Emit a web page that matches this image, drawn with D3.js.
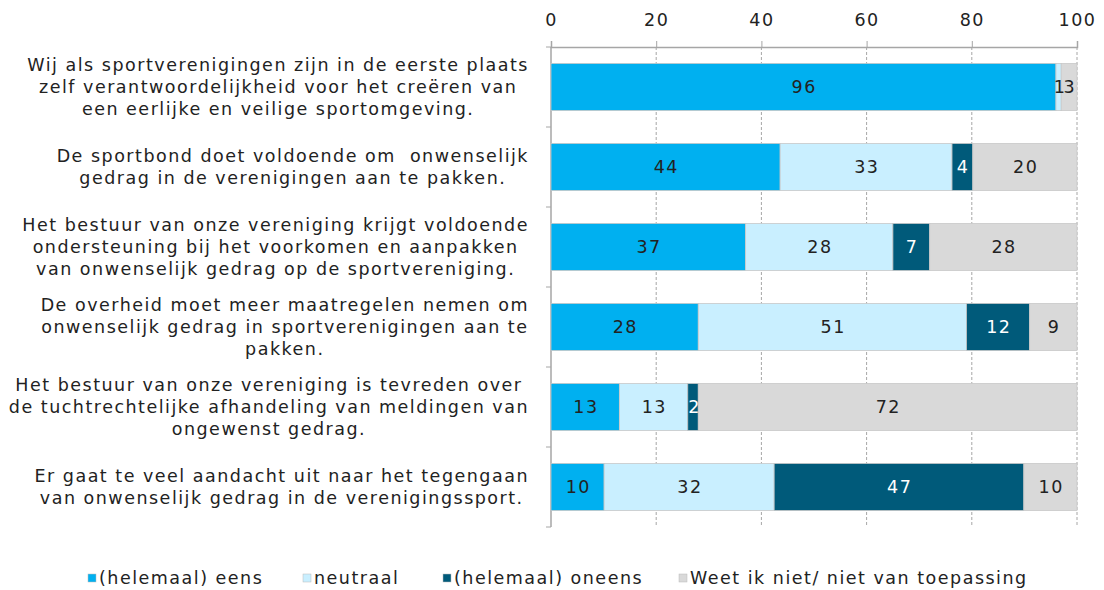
<!DOCTYPE html>
<html>
<head>
<meta charset="utf-8">
<script src="https://cdn.jsdelivr.net/npm/d3@7"></script>
<style>
  body { margin: 0; background: #fff; }
  text { font-family: "DejaVu Sans", sans-serif; fill: #222; font-size: 17.5px; letter-spacing: 1.5px; white-space: pre; }
</style>
</head>
<body>
<div id="chart"></div>
<script>
// data
var statements = [
  ["Wij als sportverenigingen zijn in de eerste plaats", "zelf verantwoordelijkheid voor het creëren van", "een eerlijke en veilige sportomgeving."],
  ["De sportbond doet voldoende om  onwenselijk", "gedrag in de verenigingen aan te pakken."],
  ["Het bestuur van onze vereniging krijgt voldoende", "ondersteuning bij het voorkomen en aanpakken", "van onwenselijk gedrag op de sportvereniging."],
  ["De overheid moet meer maatregelen nemen om", "onwenselijk gedrag in sportverenigingen aan te", "pakken."],
  ["Het bestuur van onze vereniging is tevreden over", "de tuchtrechtelijke afhandeling van meldingen van", "ongewenst gedrag."],
  ["Er gaat te veel aandacht uit naar het tegengaan", "van onwenselijk gedrag in de verenigingssport."]
];
var seriesNames = ["(helemaal) eens", "neutraal", "(helemaal) oneens", "Weet ik niet/ niet van toepassing"];
var eens     = [96, 44, 37, 28, 13, 10];
var neutraal = [1, 33, 28, 51, 13, 32];
var oneens   = [0, 4, 7, 12, 2, 47];
var weetNiet = [3, 20, 28, 9, 72, 10];
var xTicks = [0, 20, 40, 60, 80, 100];

var colors = ["#00b0f0", "#c9efff", "#005a7a", "#d9d9d9"];
var labelColors = ["#222", "#222", "#fff", "#222"];

// dimensions
var margin = {top: 47, right: 27, bottom: 63, left: 551},
    width = 1104 - margin.left - margin.right;

var svg = d3.select("#chart")
  .append("svg")
    .attr("width", 1104)
    .attr("height", 590)
  .append("g")
    .attr("transform", "translate(" + margin.left + "," + margin.top + ")");

// build rows, stacked to 100%
var rows = statements.map(function(s, i) {
  return {label: s, vals: [eens[i], neutraal[i], oneens[i], weetNiet[i]]};
});
rows.forEach(function(r) {
  var total = d3.sum(r.vals), acc = 0;
  r.segs = r.vals.map(function(v, k) {
    var s = {k: k, v: v, x0: acc / total * 100, x1: (acc + v) / total * 100};
    acc += v;
    return s;
  });
});

var x = d3.scaleLinear().domain([0, 100]).range([0, width]);
var y = d3.scaleBand()
  .domain(d3.range(rows.length))
  .range([0, 480])
  .paddingInner(0.41)
  .paddingOuter(0.205);

// gridlines
svg.append("g")
  .selectAll("line")
  .data(xTicks.slice(1))
  .enter().append("line")
    .attr("x1", function(d) { return x(d); })
    .attr("x2", function(d) { return x(d); })
    .attr("y1", 0)
    .attr("y2", 480)
    .attr("stroke", "#a6a6a6")
    .attr("stroke-dasharray", "3,2");

// top axis
var xAxis = svg.append("g")
  .call(d3.axisTop(x).tickValues(xTicks).tickSize(6).tickPadding(15));
xAxis.select(".domain").attr("stroke", "#a6a6a6").attr("stroke-width", 1.5);
xAxis.selectAll(".tick line").attr("stroke", "#a6a6a6");
xAxis.selectAll(".tick text")
  .attr("font-size", null)
  .attr("font-family", null)
  .attr("fill", "#222");

// left axis (boundary ticks only)
svg.append("line")
  .attr("x1", 0).attr("x2", 0).attr("y1", 0).attr("y2", 480)
  .attr("stroke", "#a6a6a6").attr("stroke-width", 1.5);
svg.append("g")
  .selectAll("line")
  .data(d3.range(rows.length + 1))
  .enter().append("line")
    .attr("x1", -5).attr("x2", 0)
    .attr("y1", function(d) { return d * y.step(); })
    .attr("y2", function(d) { return d * y.step(); })
    .attr("stroke", "#a6a6a6");

// bars
var rowG = svg.append("g")
  .selectAll("g")
  .data(rows)
  .enter().append("g")
    .attr("transform", function(d, i) { return "translate(0," + y(i) + ")"; });

rowG.selectAll("rect")
  .data(function(d) { return d.segs.filter(function(s) { return s.v > 0; }); })
  .enter().append("rect")
    .attr("x", function(s) { return x(s.x0); })
    .attr("width", function(s) { return x(s.x1) - x(s.x0); })
    .attr("height", y.bandwidth())
    .attr("fill", function(s) { return colors[s.k]; })
    .attr("stroke", "#c8c8c8")
    .attr("stroke-width", 0.8);

rowG.selectAll("text")
  .data(function(d) { return d.segs.filter(function(s) { return s.v > 0; }); })
  .enter().append("text")
    .attr("x", function(s) { return x((s.x0 + s.x1) / 2) + 0.75; })
    .attr("y", y.bandwidth() / 2)
    .attr("dy", "0.36em")
    .attr("text-anchor", "middle")
    .style("fill", function(s) { return labelColors[s.k]; })
    .style("letter-spacing", function(s) { return s.v < 3 ? "0px" : null; })
    .text(function(s) { return s.v; });

// category labels, centred block right-aligned to the axis
var lineH = 22;
rows.forEach(function(r, i) {
  var g = svg.append("g");
  var n = r.label.length;
  var t = g.selectAll("text")
    .data(r.label)
    .enter().append("text")
      .attr("y", function(d, j) { return y(i) + y.bandwidth() / 2 + (j - (n - 1) / 2) * lineH; })
      .attr("dy", "0.36em")
      .attr("text-anchor", "middle")
      .text(function(d) { return d; });
  var maxW = 0;
  t.each(function() { maxW = Math.max(maxW, this.getComputedTextLength()); });
  t.attr("x", -22 - maxW / 2);
});

// legend
var legendX = [88, 303, 443, 679];
var legend = svg.append("g")
  .attr("transform", "translate(" + (-margin.left) + "," + (578 - margin.top) + ")");
seriesNames.forEach(function(name, k) {
  legend.append("rect")
    .attr("x", legendX[k]).attr("y", -4)
    .attr("width", 8).attr("height", 8)
    .attr("fill", colors[k])
    .attr("stroke", "#bbb").attr("stroke-width", 0.5);
  legend.append("text")
    .attr("x", legendX[k] + 11)
    .attr("dy", "0.36em")
    .text(name);
});
</script>
</body>
</html>
